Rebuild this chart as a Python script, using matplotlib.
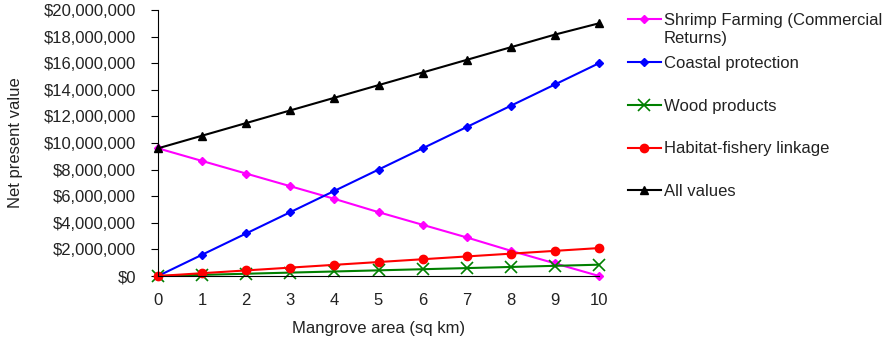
import matplotlib
matplotlib.use("Agg")
import matplotlib.pyplot as plt
from matplotlib.ticker import FuncFormatter

plt.rcParams['font.family'] = ['Liberation Sans', 'DejaVu Sans']

# data (millions of dollars)
area = [0, 1, 2, 3, 4, 5, 6, 7, 8, 9, 10]
shrimp = [9.6, 8.65, 7.7, 6.75, 5.8, 4.8, 3.85, 2.9, 1.9, 0.95, 0.0]
coastal = [0.0, 1.6, 3.2, 4.8, 6.4, 8.0, 9.6, 11.2, 12.8, 14.4, 16.0]
wood = [0.0, 0.085, 0.17, 0.255, 0.34, 0.425, 0.51, 0.595, 0.68, 0.765, 0.85]
habitat = [0.0, 0.21, 0.42, 0.63, 0.84, 1.05, 1.26, 1.47, 1.68, 1.89, 2.1]
all_values = [9.6, 10.55, 11.5, 12.45, 13.4, 14.35, 15.3, 16.25, 17.2, 18.15, 19.0]

labels = ["Shrimp Farming (Commercial", "Coastal protection",
          "Wood products", "Habitat-fishery linkage", "All values"]

fs = 12
txt = '#222222'

fig = plt.figure(figsize=(8.89, 3.41), dpi=100)
ax = fig.add_axes([158 / 889, 65 / 341, (599 - 158) / 889, (276 - 10) / 341])

ax.plot(area, [v * 1e6 for v in shrimp], color='#ff00ff', marker='D', ms=4, lw=1.5, label=labels[0])
ax.plot(area, [v * 1e6 for v in coastal], color='#0000ff', marker='D', ms=4, lw=1.5, label=labels[1])
ax.plot(area, [v * 1e6 for v in wood], color='#008000', marker='x', ms=8, mew=1.2, lw=1.5, label=labels[2])
ax.plot(area, [v * 1e6 for v in habitat], color='#ff0000', marker='o', ms=6, lw=1.5, label=labels[3])
ax.plot(area, [v * 1e6 for v in all_values], color='black', marker='^', ms=6, lw=1.5, label=labels[4])

ax.set_xlim(0, 10)
ax.set_ylim(0, 20e6)
ax.set_xticks(area)
ax.set_yticks([i * 2e6 for i in range(11)])
ax.yaxis.set_major_formatter(FuncFormatter(lambda v, p: f"${v:,.0f}"))
ax.spines['top'].set_visible(False)
ax.spines['right'].set_visible(False)
ax.tick_params(axis='both', labelsize=fs, labelcolor=txt, direction='out')
ax.tick_params(axis='y', length=5, pad=11)
ax.tick_params(axis='x', length=0, pad=12)
ax.set_xlabel('Mangrove area (sq km)', fontsize=fs, color=txt)
ax.set_ylabel('Net present value', fontsize=fs, color=txt)
ax.yaxis.set_label_coords(-0.305, 0.5)
ax.xaxis.set_label_coords(0.5, -0.168)
for ln in ax.lines:
    ln.set_clip_on(False)

leg = fig.legend(loc='upper left', bbox_to_anchor=(613 / 889, 1 + 2 / 341), frameon=False,
                 fontsize=fs, labelspacing=1.67, handlelength=1.95, handletextpad=0.2)
for t in leg.get_texts():
    t.set_color(txt)

# second line of the shrimp legend label
fig.canvas.draw()
t0 = leg.get_texts()[0]
bb = t0.get_window_extent()
fig.text(bb.x0 / 889, (bb.y0 - 18) / 341, 'Returns)', fontsize=fs, color=txt,
         ha='left', va='bottom')

plt.savefig('out.png', dpi=100)
